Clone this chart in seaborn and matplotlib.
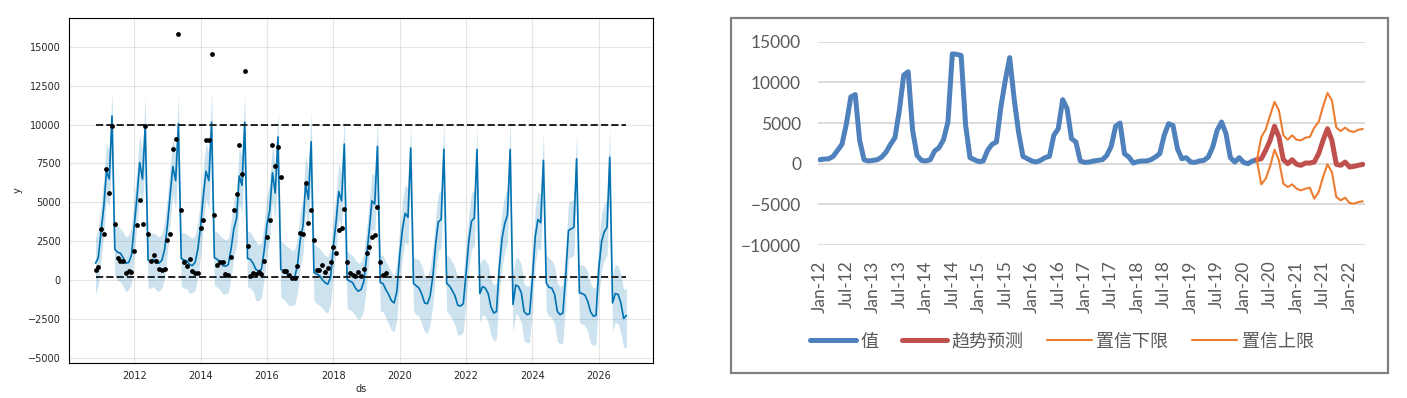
import numpy as np
import pandas as pd
import matplotlib
matplotlib.use("Agg")
import matplotlib.pyplot as plt
import matplotlib.dates as mdates
from matplotlib.patches import Rectangle
import seaborn as sns

# canvas size in pixels (dpi 100)
W, H = 1407, 398

# ---- left panel: prophet style forecast, monthly from Nov 2010 to Nov 2026 ----
FC_START = "2010-11-01"
CAP = 10000
FLOOR = 200

yhat = [
    1100, 1450, 3100, 4800, 7000, 6500, 10550, 2000, 1800, 1750, 1450, 1100,
    1150, 1600, 3500, 5400, 7550, 6500, 9950, 1300, 1250, 1350, 1150, 1100,
    1300, 2000, 3600, 5600, 7300, 6400, 10050, 1400, 1300, 1250, 1000, 950,
    1150, 2000, 3500, 5500, 7000, 6400, 10150, 1450, 1350, 1200, 950, 900,
    1000, 2000, 3300, 4000, 6700, 6100, 10150, 1400, 1350, 1100, 700, 600,
    700, 1900, 3600, 4500, 6900, 5600, 9200, 700, 600, 450, 250, 150,
    200, 950, 2600, 3500, 6200, 5200, 8900, 500, 400, 300, 50, -150,
    -250, 200, 2200, 3800, 5700, 5100, 8750, 50, -50, -150, -500, -700,
    -600, -100, 1500, 3300, 5100, 4900, 8600, -150, -200, -600, -900, -1300,
    -1450, -700, 1650, 3300, 4300, 4050, 8500, -200, -350, -500, -900, -1450,
    -1500, -1000, 300, 2400, 3750, 3900, 8420, -200, -350, -650, -1000, -1600,
    -1650, -1500, 500, 2600, 3800, 4000, 8400, -850, -400, -500, -850, -1700,
    -2100, -2000, 800, 2700, 3600, 4200, 8400, -1550, -300, -400, -800, -2000,
    -2200, -2150, 100, 2800, 3900, 3700, 7700, -150, -450, -500, -900, -2000,
    -2200, -2100, 300, 3200, 3300, 3400, 7800, -800, -850, -950, -1350, -2000,
    -2300, -2250, 800, 2500, 3100, 3400, 7900, -1450, -850, -900, -1450, -2450,
    -2250,
]

yhat_upper = [
    2700, 3300, 4900, 6600, 8800, 8300, 12150, 3600, 3500, 3300, 3100, 2800,
    2900, 3400, 5300, 7200, 9350, 8300, 11700, 3000, 3000, 3050, 2900, 2800,
    3000, 3800, 5400, 7400, 9100, 8200, 11900, 3100, 3050, 2950, 2800, 2700,
    2900, 3800, 5300, 7300, 8800, 8200, 12150, 3200, 3100, 2900, 2700, 2600,
    2700, 3800, 5100, 5800, 8500, 7900, 12100, 3150, 3100, 2800, 2500, 2300,
    2400, 3700, 5400, 6300, 8700, 7400, 10850, 2500, 2400, 2200, 2100, 1900,
    2000, 2700, 4400, 5300, 8000, 7000, 10800, 2300, 2200, 2050, 1800, 1600,
    1500, 2000, 4000, 5600, 7500, 6900, 10550, 1900, 1700, 1600, 1300, 1100,
    1200, 1700, 3300, 5100, 6900, 6700, 10350, 1650, 1600, 1200, 900, 500,
    300, 1100, 3400, 5100, 6100, 5900, 10200, 1500, 1400, 1300, 900, 300,
    300, 800, 2100, 4200, 5600, 5700, 10250, 1600, 1500, 1200, 800, 200,
    200, 300, 2300, 4400, 5600, 5800, 9820, 1000, 1400, 1300, 1000, 100,
    -300, -200, 2600, 4500, 5400, 6000, 10280, 300, 1500, 1400, 1000, -200,
    -400, -300, 1900, 4600, 5700, 5500, 9540, 1700, 1400, 1300, 900, -200,
    -400, -300, 2100, 5000, 5100, 5200, 9460, 1000, 1000, 900, 500, -200,
    -500, -400, 2600, 4300, 4900, 5200, 9760, 400, 1050, 900, 400, -600,
    -500,
]

yhat_lower = [
    -900, -300, 1300, 3000, 5200, 4700, 8700, 300, 0, -100, -400, -750,
    -600, -200, 1700, 3600, 5700, 4700, 8200, -500, -500, -400, -650, -700,
    -500, 200, 1800, 3800, 5500, 4600, 8300, -400, -500, -550, -850, -800,
    -650, 200, 1700, 3700, 5200, 4600, 8400, -300, -450, -600, -850, -900,
    -800, 200, 1500, 2200, 4900, 4300, 8400, -400, -500, -700, -1300, -1300,
    -1100, 100, 1800, 2700, 5100, 3800, 7400, -1100, -1200, -1400, -1650, -1600,
    -1550, -800, 800, 1700, 4400, 3400, 7000, -1300, -1500, -1600, -1800, -2000,
    -2100, -1600, 400, 2000, 3900, 3300, 6900, -1800, -1900, -2000, -2300, -2500,
    -2400, -1900, -300, 1500, 3300, 3100, 6800, -2000, -2000, -2400, -2800, -3200,
    -3300, -2500, -100, 1500, 2500, 2200, 6700, -2000, -2200, -2300, -2800, -3300,
    -3400, -2800, -1500, 600, 1900, 2100, 6600, -2000, -2200, -2500, -2900, -3500,
    -3500, -3300, -1300, 800, 2000, 2200, 6600, -2700, -2200, -2300, -2700, -3500,
    -3900, -3800, -1000, 900, 1800, 2400, 6600, -3400, -2100, -2300, -2700, -3900,
    -4000, -4000, -1700, 1000, 2100, 1900, 5900, -2000, -2300, -2400, -2800, -3900,
    -4100, -4000, -1500, 1400, 1500, 1600, 6000, -2700, -2800, -2900, -3300, -4000,
    -4200, -4100, -1000, 700, 1300, 1600, 6100, -3300, -2700, -2800, -3400, -4300,
    -4300,
]

# observed values, Nov 2010 - Aug 2019
actual_y = [
    650, 880, 3290, 2970, 7170, 5590, 9900, 3610, 1420, 1230, 1230, 490,
    600, 540, 1850, 3550, 5170, 3620, 9900, 3000, 1230, 1610, 1230, 750,
    650, 700, 2620, 3000, 8400, 9040, 15830, 4520, 1160, 930, 1350, 600,
    490, 490, 3360, 3900, 9000, 9000, 14530, 4200, 970, 1190, 1160, 430,
    360, 1520, 4520, 5550, 8700, 6850, 13410, 2210, 280, 490, 430, 540,
    430, 1230, 2800, 3860, 8700, 7340, 8530, 6630, 600, 620, 360, 170,
    130, 930, 3040, 3000, 6240, 3660, 4520, 2620, 690, 690, 970, 540,
    810, 1190, 2150, 1740, 3250, 3380, 4580, 1190, 490, 360, 280, 540,
    280, 750, 1740, 2150, 2760, 2900, 4730, 1190, 360, 490,
]

# ---- right panel: excel style chart, monthly Jan-12 .. Apr-22 ----
MONTH_START = "2012-01-01"
N_MONTHS = 124

value_series = [
    490, 570, 600, 900, 1640, 2380, 4900, 8200, 8500, 2870,
    490, 330, 410, 490, 820, 1430, 2380, 3200, 6560, 10900,
    11300, 4100, 1020, 410, 330, 490, 1560, 1970, 2950, 5100,
    13500, 13450, 13300, 4800, 740, 490, 250, 330, 1640, 2380,
    2670, 6970, 10250, 13040, 8000, 3900, 900, 610, 330, 200,
    410, 740, 900, 3490, 4300, 7870, 6770, 3080, 2670, 330,
    160, 200, 330, 410, 490, 1020, 2130, 4600, 5000, 1230,
    820, 80, 250, 330, 330, 490, 820, 1230, 3490, 4920,
    4700, 1850, 610, 740, 200, 160, 330, 410, 820, 2050,
    4100, 5125, 3690, 740, 200, 740, 160, 0, 330, 490,
]
# the forecast series start on the last observed month
trend_pred = [490, 610, 1640, 2870, 4600, 3280, 490, 0, 490, -80, -200, 80, 80,
              200, 1230, 2870, 4300, 2870, -80, -200, 200, -410, -330, -200, -80]
conf_low = [410, -2540, -1850, -330, 1720, 410, -2460, -2870, -2540, -3075, -3280,
            -3075, -2950, -4300, -3490, -1640, -80, -1025, -4100, -4510, -4180,
            -4840, -4920, -4715, -4630]
conf_high = [410, 3280, 4180, 5950, 7600, 6560, 3490, 2950, 3490, 2950, 2870, 3200,
             3280, 4430, 5125, 7050, 8690, 7790, 4430, 4020, 4430, 4020, 3900, 4180, 4260]
LEGEND_LABELS = ["值", "趋势预测", "置信下限", "置信上限"]

BLUE, RED, ORANGE = "#4F81BD", "#C0504D", "#ED7D31"
TEXT_GRAY = "#595959"

sns.set_style("white")
plt.rcParams["font.family"] = ["DejaVu Sans", "Noto Sans CJK SC"]


def px_box(x0, y0, x1, y1):
    return [x0 / W, 1 - y1 / H, (x1 - x0) / W, (y1 - y0) / H]


fig = plt.figure(figsize=(W / 100, H / 100), dpi=100)

# left: forecast
ax1 = fig.add_axes(px_box(69, 18, 653, 363))
ds = pd.date_range(FC_START, periods=len(yhat), freq="MS")
hist_ds = ds[:len(actual_y)]

ax1.fill_between(ds, yhat_lower, yhat_upper, color="#0072B2", alpha=0.2, linewidth=0)
sns.lineplot(x=ds, y=yhat, color="#0072B2", linewidth=1.2, ax=ax1)
sns.scatterplot(x=hist_ds, y=actual_y, color="black", s=12, linewidth=0, ax=ax1, zorder=3)
ax1.hlines([CAP, FLOOR], ds[0], ds[-1], colors="#222222", linestyles="--", linewidth=1.4)

ax1.set_yticks(np.arange(-5000, 15001, 2500))
ax1.xaxis.set_major_locator(mdates.YearLocator(2))
ax1.xaxis.set_major_formatter(mdates.DateFormatter("%Y"))
ax1.grid(True, color="gray", linewidth=0.8, alpha=0.2)
ax1.tick_params(labelsize=7, length=2.5, width=0.6, direction="out", color="#333333")
for sp in ax1.spines.values():
    sp.set_color("black")
    sp.set_linewidth(0.8)
ax1.set_xlabel("ds", fontsize=7, labelpad=2)
ax1.set_ylabel("y", fontsize=7)

# right: excel chart
ax2 = fig.add_axes(px_box(817.7, 41.7, 1365, 245))
idx = np.arange(N_MONTHS)
n_obs = len(value_series)
fc_idx = idx[n_obs - 1:]
line_kw = dict(solid_joinstyle="round", solid_capstyle="round")

sns.lineplot(x=idx[:n_obs], y=value_series, color=BLUE, linewidth=3.6,
             label=LEGEND_LABELS[0], ax=ax2, **line_kw)
sns.lineplot(x=fc_idx, y=trend_pred, color=RED, linewidth=3.6,
             label=LEGEND_LABELS[1], ax=ax2, **line_kw)
sns.lineplot(x=fc_idx, y=conf_low, color=ORANGE, linewidth=1.5,
             label=LEGEND_LABELS[2], ax=ax2, **line_kw)
sns.lineplot(x=fc_idx, y=conf_high, color=ORANGE, linewidth=1.5,
             label=LEGEND_LABELS[3], ax=ax2, **line_kw)

month_labels = pd.date_range(MONTH_START, periods=N_MONTHS, freq="MS").strftime("%b-%y")
ax2.set_xlim(-0.5, N_MONTHS - 0.5)
ax2.set_ylim(-10000, 15000)
ax2.set_yticks(np.arange(-10000, 15001, 5000))
ax2.set_xticks(idx[::6])
ax2.set_xticklabels(month_labels[::6], rotation=90)
ax2.grid(False)
ax2.yaxis.grid(True, color="#D9D9D9", linewidth=1.3)
ax2.set_axisbelow(True)
for sp in ax2.spines.values():
    sp.set_visible(False)
ax2.tick_params(axis="y", length=0, pad=12, labelsize=12.5, labelcolor=TEXT_GRAY)
ax2.tick_params(axis="x", length=0, pad=11, labelsize=12.5, labelcolor=TEXT_GRAY)
for lab in ax2.get_xticklabels() + ax2.get_yticklabels():
    lab.set_family("Lato")

handles, labels = ax2.get_legend_handles_labels()
ax2.legend_.remove()
fig.legend(handles, labels, loc="center", bbox_to_anchor=(1062 / W, 1 - 341.7 / H),
           ncol=4, frameon=False, prop={"family": "Noto Sans CJK SC", "size": 13},
           handlelength=2.5, handletextpad=0.25, columnspacing=1.3, labelcolor=TEXT_GRAY)

fig.patches.append(Rectangle((731 / W, 1 - 373 / H), (1388 - 731) / W, (373 - 18) / H,
                             transform=fig.transFigure, fill=False,
                             edgecolor="#808080", linewidth=1.6))

fig.savefig("out.png", dpi=100)
